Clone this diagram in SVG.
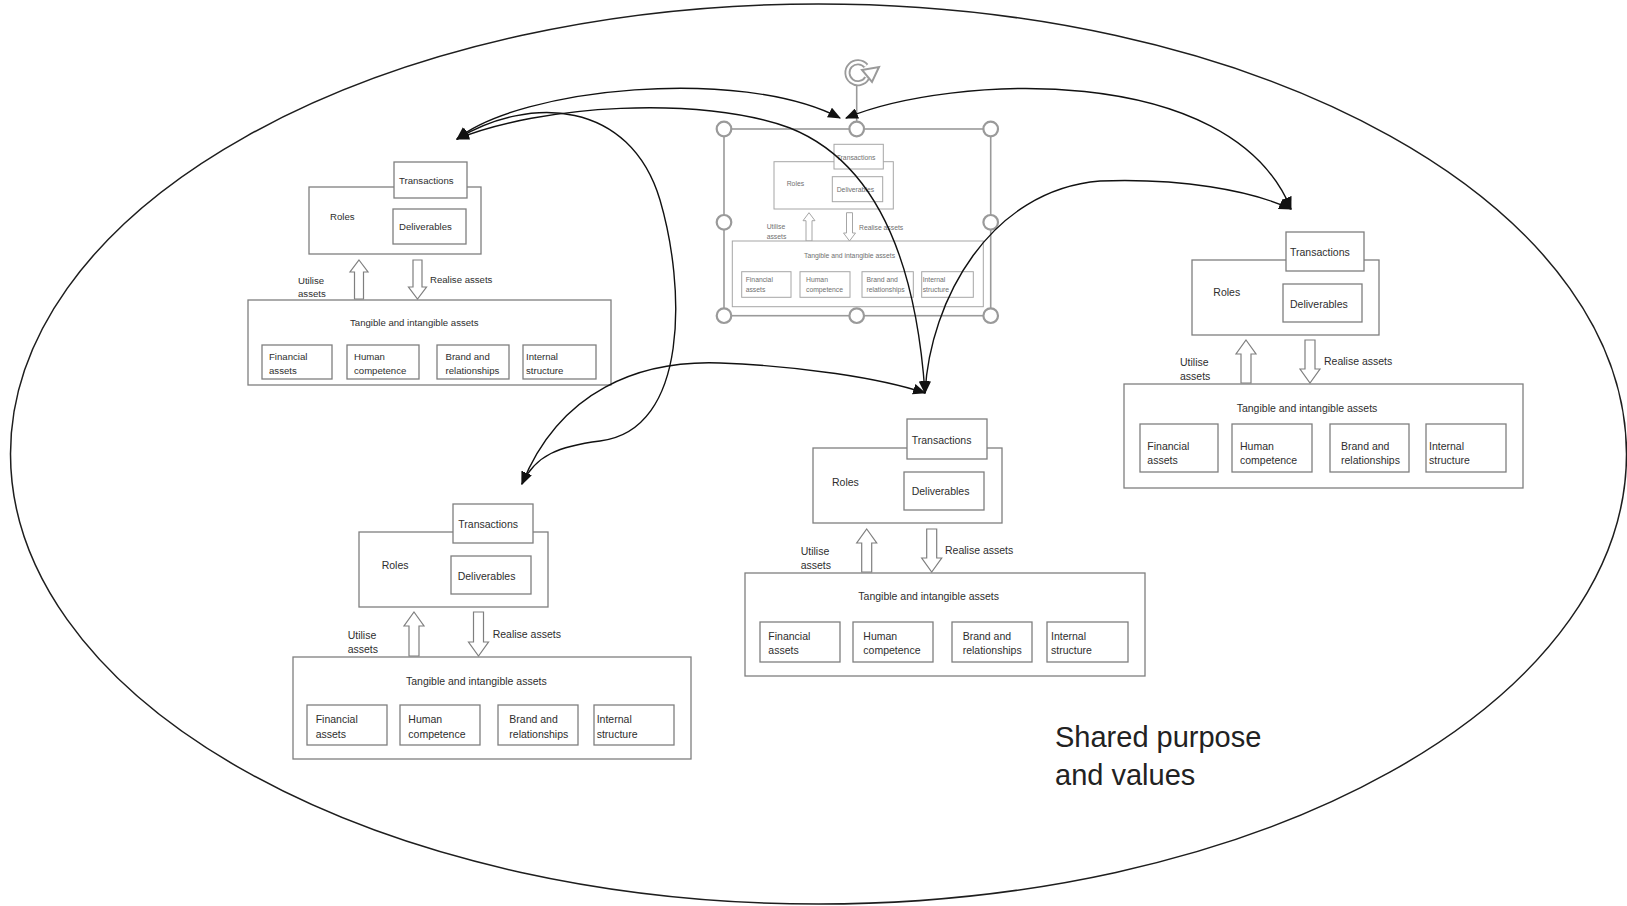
<svg xmlns="http://www.w3.org/2000/svg" width="1627" height="906" viewBox="0 0 1627 906">
  <style>
    .bg { fill: #ffffff; }
    .outline { fill: none; stroke: #1e1e1e; stroke-width: 1.5; }
    .box { fill: #ffffff; stroke: #7f7f7f; stroke-width: 1.3; }
    .blk { fill: #ffffff; stroke: #7f7f7f; stroke-width: 1.2; }
    .t { font-family: "Liberation Sans", Arial, sans-serif; fill: #2e2e2e; }
    .s1 { font-size: 9.6px; }
    .s2 { font-size: 10.5px; }
    .box-sel { fill: #ffffff; stroke: #a6a6a6; stroke-width: 1; }
    .blk-sel { fill: #ffffff; stroke: #a6a6a6; stroke-width: 1; }
    .t-sel { font-family: "Liberation Sans", Arial, sans-serif; font-size: 6.8px; fill: #707070; }
    .frame { fill: none; stroke: #9a9a9a; stroke-width: 1.6; }
    .handle { fill: #ffffff; stroke: #9a9a9a; stroke-width: 2.2; }
    .conn { fill: none; stroke: #111111; stroke-width: 1.4; marker-start: url(#ah); marker-end: url(#ah); }
    .label { font-family: "Liberation Sans", Arial, sans-serif; font-size: 29px; fill: #222222; }
  </style>
  <defs>
    <marker id="ah" viewBox="0 0 12 10" refX="11" refY="5" markerWidth="13" markerHeight="11" markerUnits="userSpaceOnUse" orient="auto-start-reverse">
      <path d="M0,0 L12,5 L0,10 z" fill="#111111"/>
    </marker>
  </defs>

  <rect class="bg" x="0" y="0" width="1627" height="906"/>

  <!-- enclosing ellipse with its caption -->
  <g id="shared-purpose">
    <ellipse class="outline" cx="818.5" cy="454" rx="808" ry="450"/>
    <text class="label" x="1055" y="747">Shared purpose</text>
    <text class="label" x="1055" y="785">and values</text>
  </g>

  <!-- top-left unit -->
  <g id="unit-top-left">
    <rect class="box" x="309" y="187" width="172" height="67"/>
    <rect class="box" x="394" y="162" width="73" height="36"/>
    <rect class="box" x="393" y="209" width="73" height="35"/>
    <text class="t s1" x="330" y="220">Roles</text>
    <text class="t s1" x="399" y="183.5">Transactions</text>
    <text class="t s1" x="399" y="230">Deliverables</text>
    <polygon class="blk" points="359,260 368,272 363.5,272 363.5,299 354.5,299 354.5,272 350,272"/>
    <polygon class="blk" points="413,260 422,260 422,287 426.5,287 417.5,299 408.5,287 413,287"/>
    <text class="t s1" x="298" y="284">Utilise</text>
    <text class="t s1" x="298" y="297">assets</text>
    <text class="t s1" x="430" y="283">Realise assets</text>
    <rect class="box" x="248" y="300" width="363" height="85"/>
    <text class="t s1" x="350" y="326">Tangible and intangible assets</text>
    <rect class="box" x="262" y="345" width="70" height="34"/>
    <rect class="box" x="347" y="345" width="72" height="34"/>
    <rect class="box" x="437" y="345" width="72" height="34"/>
    <rect class="box" x="523" y="345" width="73" height="34"/>
    <text class="t s1" x="269" y="360">Financial</text>
    <text class="t s1" x="269" y="373.5">assets</text>
    <text class="t s1" x="354" y="360">Human</text>
    <text class="t s1" x="354" y="373.5">competence</text>
    <text class="t s1" x="445.5" y="360">Brand and</text>
    <text class="t s1" x="445.5" y="373.5">relationships</text>
    <text class="t s1" x="526" y="360">Internal</text>
    <text class="t s1" x="526" y="373.5">structure</text>
  </g>

  <!-- selected unit, shown small with its selection frame -->
  <g id="unit-selected">
    <rect class="frame" x="724" y="129" width="266.7" height="186.7"/>
    <line class="frame" x1="856.7" y1="86" x2="856.7" y2="122"/>
    <!-- rotate handle: hollow ring with a chevron head -->
    <path d="M 867,78 A 10.5,10.5 0 1 1 866,66" fill="none" stroke="#9a9a9a" stroke-width="6"/>
    <path d="M 867,78 A 10.5,10.5 0 1 1 866,66" fill="none" stroke="#ffffff" stroke-width="2.4"/>
    <polygon points="862,70 879,67 872,82" fill="#ffffff" stroke="#9a9a9a" stroke-width="2"/>
    <rect class="box-sel" x="774" y="161.7" width="119.3" height="47.3"/>
    <rect class="box-sel" x="834" y="144.3" width="49.3" height="24.7"/>
    <rect class="box-sel" x="832.3" y="176.7" width="50.4" height="25"/>
    <text class="t-sel" x="786.7" y="185.6">Roles</text>
    <text class="t-sel" x="836.7" y="159.6">Transactions</text>
    <text class="t-sel" x="836.7" y="192.3">Deliverables</text>
    <polygon class="blk-sel" points="809,212.7 815,220.7 812,220.7 812,241 806,241 806,220.7 803,220.7"/>
    <polygon class="blk-sel" points="846.5,212.7 852.5,212.7 852.5,233 855.5,233 849.5,241 843.5,233 846.5,233"/>
    <text class="t-sel" x="766.7" y="229">Utilise</text>
    <text class="t-sel" x="766.7" y="239">assets</text>
    <text class="t-sel" x="859" y="229.6">Realise assets</text>
    <rect class="box-sel" x="732.3" y="241" width="251" height="65.7"/>
    <text class="t-sel" x="804" y="258.3">Tangible and intangible assets</text>
    <rect class="box-sel" x="741.7" y="271.7" width="49.3" height="25.6"/>
    <rect class="box-sel" x="800" y="271.7" width="50" height="25.6"/>
    <rect class="box-sel" x="862" y="271.7" width="51.3" height="25.6"/>
    <rect class="box-sel" x="921.7" y="271.7" width="51.6" height="25.6"/>
    <text class="t-sel" x="745.7" y="282.3">Financial</text>
    <text class="t-sel" x="745.7" y="291.6">assets</text>
    <text class="t-sel" x="806" y="282.3">Human</text>
    <text class="t-sel" x="806" y="291.6">competence</text>
    <text class="t-sel" x="866.5" y="282.3">Brand and</text>
    <text class="t-sel" x="866.5" y="291.6">relationships</text>
    <text class="t-sel" x="922.7" y="282.3">Internal</text>
    <text class="t-sel" x="922.7" y="291.6">structure</text>
    <circle class="handle" cx="724" cy="129" r="7.3"/>
    <circle class="handle" cx="856.7" cy="129" r="7.3"/>
    <circle class="handle" cx="990.7" cy="129" r="7.3"/>
    <circle class="handle" cx="724" cy="222.3" r="7.3"/>
    <circle class="handle" cx="990.7" cy="222.3" r="7.3"/>
    <circle class="handle" cx="724" cy="315.7" r="7.3"/>
    <circle class="handle" cx="856.7" cy="315.7" r="7.3"/>
    <circle class="handle" cx="990.7" cy="315.7" r="7.3"/>
  </g>

  <!-- right unit -->
  <g id="unit-right">
    <rect class="box" x="1192" y="260" width="187" height="75"/>
    <rect class="box" x="1286" y="232" width="78" height="39"/>
    <rect class="box" x="1283" y="284" width="79" height="38"/>
    <text class="t s2" x="1213.3" y="296.4">Roles</text>
    <text class="t s2" x="1290" y="256">Transactions</text>
    <text class="t s2" x="1290" y="307.7">Deliverables</text>
    <polygon class="blk" points="1246,340 1256,354 1251,354 1251,383 1241,383 1241,354 1236,354"/>
    <polygon class="blk" points="1305,340 1315,340 1315,369 1320,369 1310,383 1300,369 1305,369"/>
    <text class="t s2" x="1180" y="366.4">Utilise</text>
    <text class="t s2" x="1180" y="380.4">assets</text>
    <text class="t s2" x="1324" y="365.4">Realise assets</text>
    <rect class="box" x="1124" y="384" width="399" height="104"/>
    <text class="t s2" x="1236.7" y="412">Tangible and intangible assets</text>
    <rect class="box" x="1140" y="424" width="78" height="48"/>
    <rect class="box" x="1232" y="424" width="80" height="48"/>
    <rect class="box" x="1330" y="424" width="79" height="48"/>
    <rect class="box" x="1426" y="424" width="80" height="48"/>
    <text class="t s2" x="1147.3" y="450.4">Financial</text>
    <text class="t s2" x="1147.3" y="464.4">assets</text>
    <text class="t s2" x="1240" y="450.4">Human</text>
    <text class="t s2" x="1240" y="464.4">competence</text>
    <text class="t s2" x="1341" y="450.4">Brand and</text>
    <text class="t s2" x="1341" y="464.4">relationships</text>
    <text class="t s2" x="1429" y="450.4">Internal</text>
    <text class="t s2" x="1429" y="464.4">structure</text>
  </g>

  <!-- bottom-left unit -->
  <g id="unit-bottom-left">
    <rect class="box" x="359" y="532" width="189" height="75"/>
    <rect class="box" x="453" y="504" width="80" height="39"/>
    <rect class="box" x="451" y="556" width="80" height="38"/>
    <text class="t s2" x="381.7" y="568.7">Roles</text>
    <text class="t s2" x="458.3" y="528">Transactions</text>
    <text class="t s2" x="457.7" y="579.7">Deliverables</text>
    <polygon class="blk" points="414,612 424,626 419,626 419,656 409,656 409,626 404,626"/>
    <polygon class="blk" points="473.5,612 483.5,612 483.5,642 488.5,642 478.5,656 468.5,642 473.5,642"/>
    <text class="t s2" x="347.7" y="639.4">Utilise</text>
    <text class="t s2" x="347.7" y="653">assets</text>
    <text class="t s2" x="492.7" y="638">Realise assets</text>
    <rect class="box" x="293" y="657" width="398" height="102"/>
    <text class="t s2" x="406" y="685.4">Tangible and intangible assets</text>
    <rect class="box" x="307" y="705" width="80" height="40"/>
    <rect class="box" x="400" y="705" width="80" height="40"/>
    <rect class="box" x="498" y="705" width="80" height="40"/>
    <rect class="box" x="594" y="705" width="80" height="40"/>
    <text class="t s2" x="315.7" y="723">Financial</text>
    <text class="t s2" x="315.7" y="737.7">assets</text>
    <text class="t s2" x="408.3" y="723">Human</text>
    <text class="t s2" x="408.3" y="737.7">competence</text>
    <text class="t s2" x="509.3" y="723">Brand and</text>
    <text class="t s2" x="509.3" y="737.7">relationships</text>
    <text class="t s2" x="596.7" y="723">Internal</text>
    <text class="t s2" x="596.7" y="737.7">structure</text>
  </g>

  <!-- bottom-centre unit -->
  <g id="unit-bottom-centre">
    <rect class="box" x="813" y="448" width="189" height="75"/>
    <rect class="box" x="907" y="419" width="80" height="40"/>
    <rect class="box" x="904" y="472" width="80" height="38"/>
    <text class="t s2" x="832" y="485.5">Roles</text>
    <text class="t s2" x="911.7" y="443.7">Transactions</text>
    <text class="t s2" x="911.7" y="494.7">Deliverables</text>
    <polygon class="blk" points="866.7,529 876.7,543 871.7,543 871.7,572 861.7,572 861.7,543 856.7,543"/>
    <polygon class="blk" points="926.7,529 936.7,529 936.7,558 941.7,558 931.7,572 921.7,558 926.7,558"/>
    <text class="t s2" x="800.7" y="554.7">Utilise</text>
    <text class="t s2" x="800.7" y="568.7">assets</text>
    <text class="t s2" x="945" y="553.7">Realise assets</text>
    <rect class="box" x="745" y="573" width="400" height="103"/>
    <text class="t s2" x="858.3" y="600.4">Tangible and intangible assets</text>
    <rect class="box" x="760" y="622" width="80" height="40"/>
    <rect class="box" x="853" y="622" width="80" height="40"/>
    <rect class="box" x="952" y="622" width="80" height="40"/>
    <rect class="box" x="1047" y="622" width="81" height="40"/>
    <text class="t s2" x="768.3" y="639.7">Financial</text>
    <text class="t s2" x="768.3" y="653.7">assets</text>
    <text class="t s2" x="863.3" y="639.7">Human</text>
    <text class="t s2" x="863.3" y="653.7">competence</text>
    <text class="t s2" x="962.7" y="639.7">Brand and</text>
    <text class="t s2" x="962.7" y="653.7">relationships</text>
    <text class="t s2" x="1051" y="639.7">Internal</text>
    <text class="t s2" x="1051" y="653.7">structure</text>
  </g>

  <!-- two-way links between the units -->
  <g id="connectors">
    <path class="conn" d="M 457,139 C 520,88 740,66 840,118"/>
    <path class="conn" d="M 846,118 C 950,75 1230,60 1291,209"/>
    <path class="conn" d="M 457,139 C 540,105 700,95 790,128 C 870,160 915,250 925,393"/>
    <path class="conn" d="M 457,139 C 530,95 630,100 660,200 C 685,285 690,430 600,441 C 560,446 535,455 522,484"/>
    <path class="conn" d="M 522,484 C 560,390 640,360 720,363 C 800,366 880,378 925,393"/>
    <path class="conn" d="M 925,393 C 930,300 990,190 1100,181 C 1180,178 1250,190 1291,209"/>
  </g>
</svg>
